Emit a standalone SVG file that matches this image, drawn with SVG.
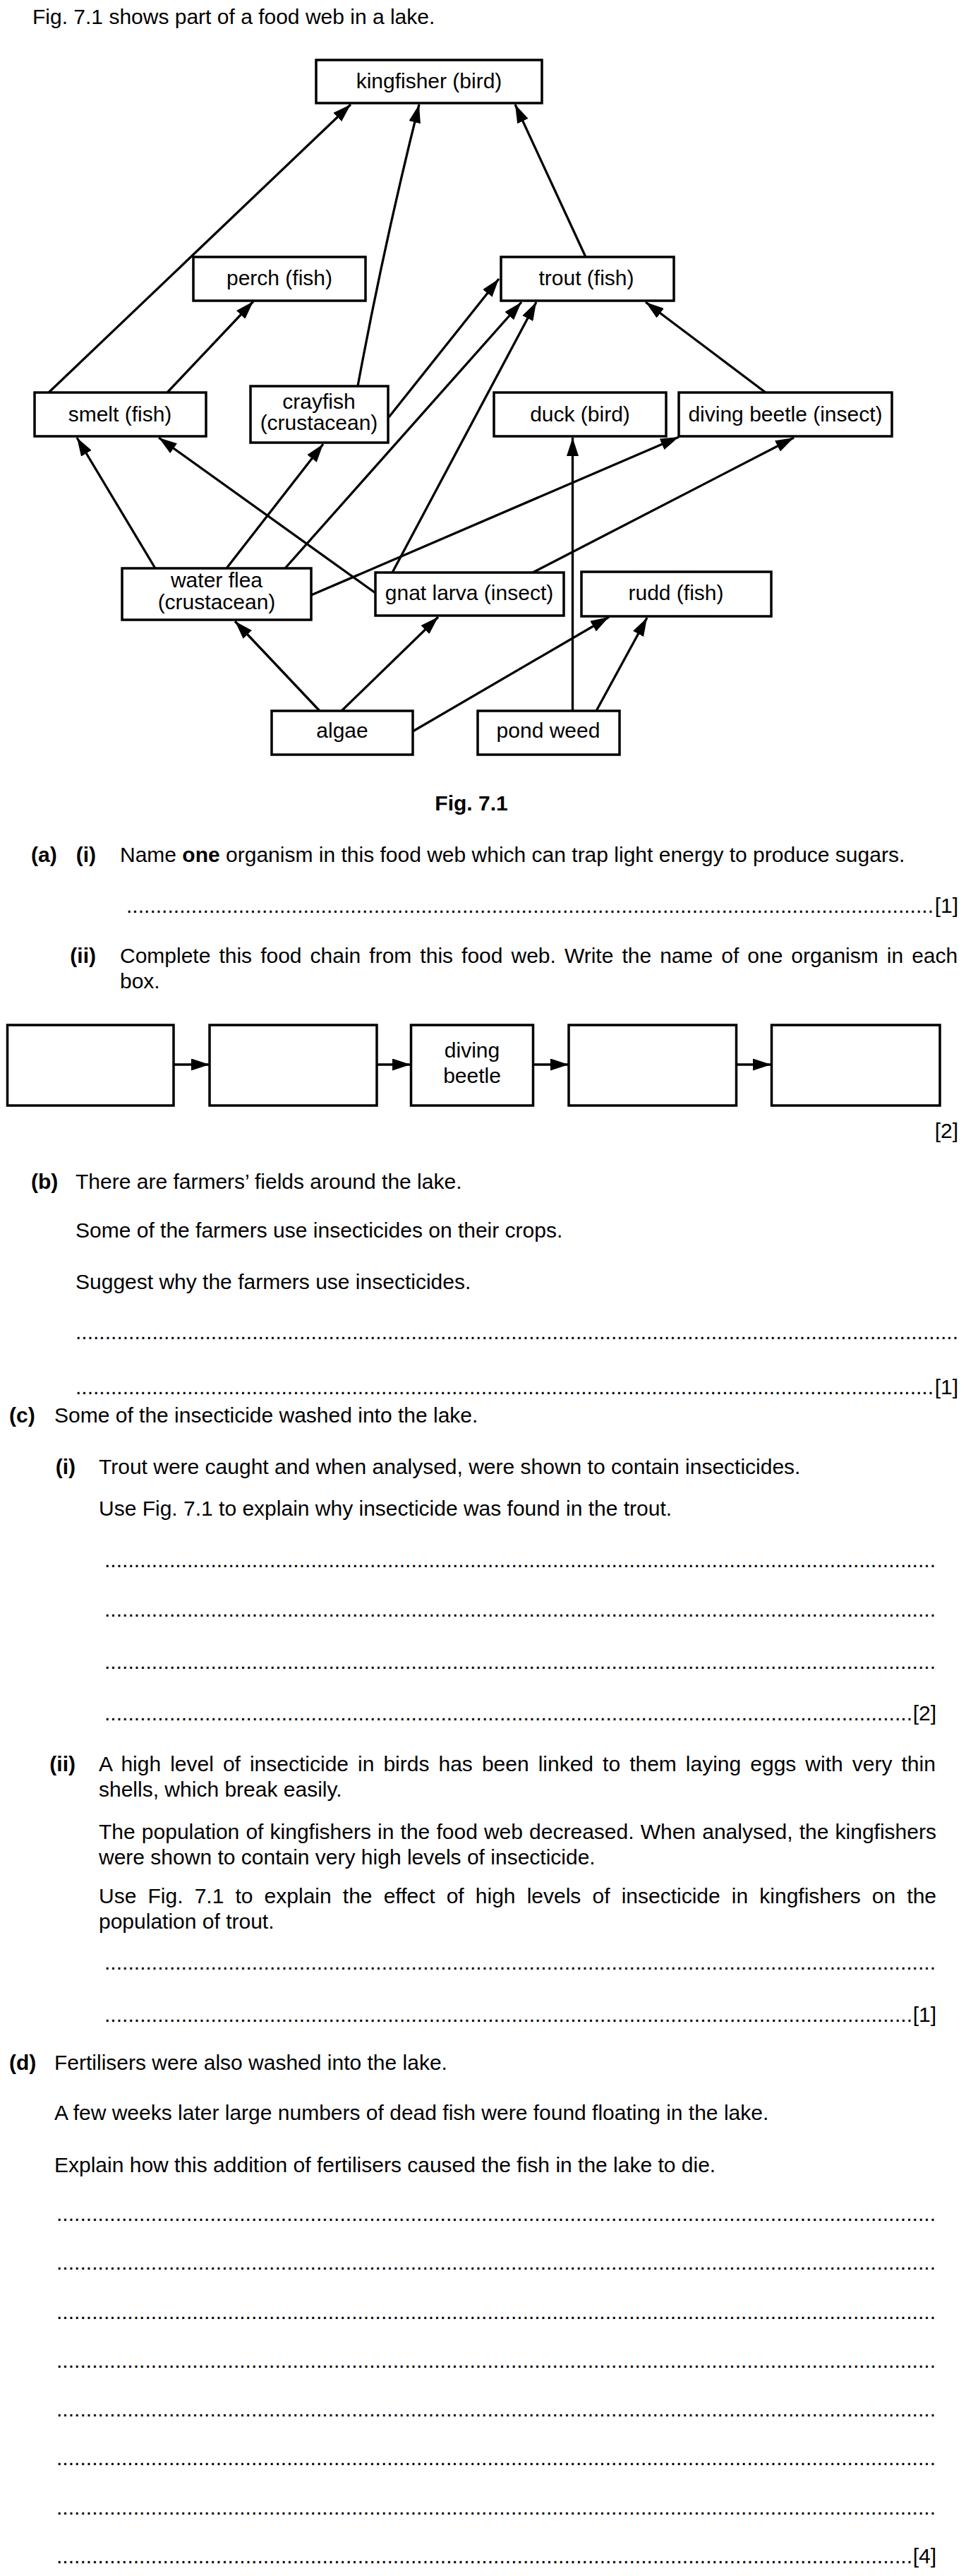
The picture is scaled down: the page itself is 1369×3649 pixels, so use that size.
<svg xmlns="http://www.w3.org/2000/svg" width="1369" height="3649" viewBox="0 0 1369 3649">
<defs>
<style>
text{font-family:"Liberation Sans",Arial,Helvetica,sans-serif;font-size:30px;fill:#000}
.b{font-weight:bold}
.c{text-anchor:middle}
.e{text-anchor:end}
.box{fill:#fff;stroke:#000;stroke-width:3.5}
.edge{fill:none;stroke:#000;stroke-width:3.3;marker-end:url(#arr)}
</style>
<marker id="arr" markerUnits="userSpaceOnUse" markerWidth="27" markerHeight="17" refX="26" refY="8.5" orient="auto"><path d="M0,0 L26,8.5 L0,17 Z" fill="#000"/></marker>
</defs>
<rect width="1369" height="3649" fill="#fff"/>

<text x="46" y="34">Fig. 7.1 shows part of a food web in a lake.</text>

<g id="connectors">
<path class="edge" d="M69,556 L497,148"/>
<path class="edge" d="M237,556 L359,427"/>
<path class="edge" d="M507,547 Q544,347 594,148"/>
<path class="edge" d="M830,364 L730,148"/>
<path class="edge" d="M551,591 L707,395"/>
<path class="edge" d="M404,805 L739,428"/>
<path class="edge" d="M556,811 L760,428"/>
<path class="edge" d="M1085,556 L915,428"/>
<path class="edge" d="M220,805 L109,620"/>
<path class="edge" d="M321,805 L458,629"/>
<path class="edge" d="M532,840 L225,620"/>
<path class="edge" d="M441,843 L962,619"/>
<path class="edge" d="M755,811 L1125,620"/>
<path class="edge" d="M453,1007 L333,880"/>
<path class="edge" d="M484,1007 L621,874"/>
<path class="edge" d="M585,1036 L863,874"/>
<path class="edge" d="M811.5,1007 L811.5,620"/>
<path class="edge" d="M845,1007 L917,875"/>
</g>

<g id="kingfisher"><rect class="box" x="448" y="85" width="320" height="61"/><text class="c" x="608" y="125">kingfisher (bird)</text></g>
<g id="perch"><rect class="box" x="274" y="364" width="244" height="62"/><text class="c" x="396" y="404">perch (fish)</text></g>
<g id="trout"><rect class="box" x="710" y="364" width="245" height="62"/><text class="c" x="831" y="404">trout (fish)</text></g>
<g id="smelt"><rect class="box" x="49" y="556" width="243" height="62"/><text class="c" x="170" y="597">smelt (fish)</text></g>
<g id="crayfish"><rect class="box" x="355" y="547" width="195" height="80"/><text class="c" x="452" y="579">crayfish</text><text class="c" x="452" y="609">(crustacean)</text></g>
<g id="duck"><rect class="box" x="700" y="556" width="244" height="62"/><text class="c" x="822" y="597">duck (bird)</text></g>
<g id="diving-beetle"><rect class="box" x="962" y="556" width="302" height="62"/><text class="c" x="1113" y="597">diving beetle (insect)</text></g>
<g id="water-flea"><rect class="box" x="173" y="805" width="268" height="73"/><text class="c" x="307" y="832">water flea</text><text class="c" x="307" y="863">(crustacean)</text></g>
<g id="gnat-larva"><rect class="box" x="532" y="811" width="267" height="61"/><text class="c" x="665" y="850">gnat larva (insect)</text></g>
<g id="rudd"><rect class="box" x="824" y="810" width="269" height="63"/><text class="c" x="958" y="850">rudd (fish)</text></g>
<g id="algae"><rect class="box" x="385" y="1007" width="200" height="62"/><text class="c" x="485" y="1045">algae</text></g>
<g id="pond-weed"><rect class="box" x="677" y="1007" width="201" height="62"/><text class="c" x="777" y="1045">pond weed</text></g>

<text class="b c" x="668" y="1148">Fig. 7.1</text>

<text class="b" x="44" y="1221">(a)</text>
<text class="b e" x="136" y="1221">(i)</text>
<text x="170" y="1221">Name <tspan class="b">one</tspan> organism in this food web which can trap light energy to produce sugars.</text>
<text x="179" y="1293" textLength="1144" lengthAdjust="spacing">.........................................................................................................................................</text>
<text class="e" x="1358" y="1293">[1]</text>

<text class="b e" x="136" y="1364">(ii)</text>
<text x="170" y="1364" word-spacing="3.7">Complete this food chain from this food web. Write the name of one organism in each</text>
<text x="170" y="1400">box.</text>

<g id="chain-connectors">
<path class="edge" d="M246,1508 L297,1508"/>
<path class="edge" d="M534,1508 L582,1508"/>
<path class="edge" d="M755,1508 L806,1508"/>
<path class="edge" d="M1043,1508 L1093,1508"/>
</g>
<g id="chain-1"><rect class="box" x="10.5" y="1452" width="235.5" height="114"/></g>
<g id="chain-2"><rect class="box" x="297" y="1452" width="237" height="114"/></g>
<g id="chain-3"><rect class="box" x="582.5" y="1452" width="173" height="114"/><text class="c" x="669" y="1498">diving</text><text class="c" x="669" y="1534">beetle</text></g>
<g id="chain-4"><rect class="box" x="806" y="1452" width="237.5" height="114"/></g>
<g id="chain-5"><rect class="box" x="1093.5" y="1452" width="238.5" height="114"/></g>
<text class="e" x="1358" y="1612">[2]</text>

<text class="b" x="44" y="1684">(b)</text>
<text x="107" y="1684">There are farmers’ fields around the lake.</text>
<text x="107" y="1753">Some of the farmers use insecticides on their crops.</text>
<text x="107" y="1826">Suggest why the farmers use insecticides.</text>
<text x="107" y="1897" textLength="1251" lengthAdjust="spacing">......................................................................................................................................................</text>
<text x="107" y="1975" textLength="1216" lengthAdjust="spacing">..................................................................................................................................................</text>
<text class="e" x="1358" y="1975">[1]</text>

<text class="b" x="13" y="2015">(c)</text>
<text x="77" y="2015">Some of the insecticide washed into the lake.</text>
<text class="b e" x="107" y="2088">(i)</text>
<text x="140" y="2088">Trout were caught and when analysed, were shown to contain insecticides.</text>
<text x="140" y="2147">Use Fig. 7.1 to explain why insecticide was found in the trout.</text>
<text x="148" y="2220" textLength="1178" lengthAdjust="spacing">.............................................................................................................................................</text>
<text x="148" y="2290" textLength="1178" lengthAdjust="spacing">.............................................................................................................................................</text>
<text x="148" y="2364" textLength="1178" lengthAdjust="spacing">.............................................................................................................................................</text>
<text x="148" y="2437" textLength="1145" lengthAdjust="spacing">.........................................................................................................................................</text>
<text class="e" x="1327" y="2437">[2]</text>

<text class="b e" x="107" y="2509">(ii)</text>
<text x="140" y="2509" word-spacing="4.7">A high level of insecticide in birds has been linked to them laying eggs with very thin</text>
<text x="140" y="2545">shells, which break easily.</text>
<text x="140" y="2605" word-spacing="0.8">The population of kingfishers in the food web decreased. When analysed, the kingfishers</text>
<text x="140" y="2641">were shown to contain very high levels of insecticide.</text>
<text x="140" y="2696" word-spacing="7.8">Use Fig. 7.1 to explain the effect of high levels of insecticide in kingfishers on the</text>
<text x="140" y="2732">population of trout.</text>
<text x="148" y="2790" textLength="1178" lengthAdjust="spacing">.............................................................................................................................................</text>
<text x="148" y="2864" textLength="1145" lengthAdjust="spacing">.........................................................................................................................................</text>
<text class="e" x="1327" y="2864">[1]</text>

<text class="b" x="13" y="2932">(d)</text>
<text x="77" y="2932">Fertilisers were also washed into the lake.</text>
<text x="77" y="3003">A few weeks later large numbers of dead fish were found floating in the lake.</text>
<text x="77" y="3077">Explain how this addition of fertilisers caused the fish in the lake to die.</text>
<text x="80" y="3146" textLength="1246" lengthAdjust="spacing">.....................................................................................................................................................</text>
<text x="80" y="3215" textLength="1246" lengthAdjust="spacing">.....................................................................................................................................................</text>
<text x="80" y="3285" textLength="1246" lengthAdjust="spacing">.....................................................................................................................................................</text>
<text x="80" y="3354" textLength="1246" lengthAdjust="spacing">.....................................................................................................................................................</text>
<text x="80" y="3423" textLength="1246" lengthAdjust="spacing">.....................................................................................................................................................</text>
<text x="80" y="3492" textLength="1246" lengthAdjust="spacing">.....................................................................................................................................................</text>
<text x="80" y="3562" textLength="1246" lengthAdjust="spacing">.....................................................................................................................................................</text>
<text x="80" y="3631" textLength="1213" lengthAdjust="spacing">.................................................................................................................................................</text>
<text class="e" x="1327" y="3631">[4]</text>
</svg>
